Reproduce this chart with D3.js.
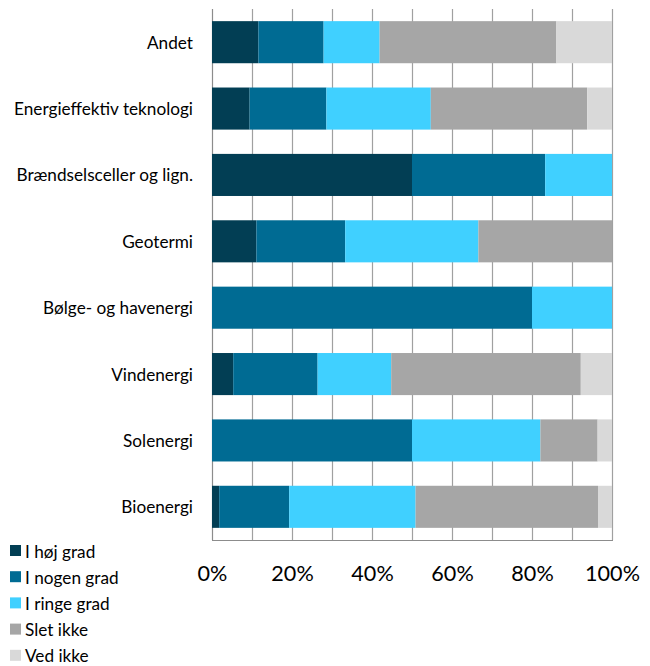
<!DOCTYPE html>
<html><head><meta charset="utf-8">
<script src="https://cdn.jsdelivr.net/npm/d3@7"></script>
<style>body{margin:0;background:#fff;} svg{display:block;}</style>
</head><body>
<svg id="chart" width="650" height="666"></svg>
<script>
const categories = ["Andet","Energieffektiv teknologi","Brændselsceller og lign.","Geotermi","Bølge- og havenergi","Vindenergi","Solenergi","Bioenergi"];
const seriesNames = ["I høj grad","I nogen grad","I ringe grad","Slet ikke","Ved ikke"];
const hoejGrad   = [11.6, 9.4, 50.0, 11.1, 0, 5.3, 0, 1.8];
const nogenGrad  = [16.3, 19.2, 33.3, 22.2, 80.0, 21.1, 50.0, 17.5];
const ringeGrad  = [14.0, 26.1, 16.7, 33.3, 20.0, 18.4, 32.1, 31.6];
const sletIkke   = [44.2, 39.1, 0, 33.4, 0, 47.4, 14.3, 45.6];
const vedIkke    = [13.9, 6.2, 0, 0, 0, 7.8, 3.6, 3.5];
const tickValues = [0,20,40,60,80,100];
const colors = ["#023e54","#006b93","#40d0ff","#a6a6a6","#d9d9d9"];

(function(){
const seriesArrays = [hoejGrad, nogenGrad, ringeGrad, sletIkke, vedIkke];
const rows = categories.map((c,i)=>{
  const o = {cat:c};
  seriesNames.forEach((s,j)=>o[s]=seriesArrays[j][i]);
  return o;
});

const svg = d3.select("#chart");
const mLeft = 212, mRight = 612, mTop = 9, mBottom = 540;
const x = d3.scaleLinear().domain([0,100]).range([mLeft,mRight]);
const y = d3.scaleBand().domain(categories).range([mTop,mBottom]).paddingInner(0.366).paddingOuter(0.183);

svg.append("g").selectAll("line").data(d3.range(0,101,10)).join("line")
  .attr("x1",d=>x(d)+0.5).attr("x2",d=>x(d)+0.5)
  .attr("y1",mTop).attr("y2",mBottom)
  .attr("stroke",d=>d===0?"#8c8c8c":"#a0a0a0").attr("stroke-width",1.2);
svg.append("line").attr("x1",mLeft).attr("x2",mRight+1).attr("y1",mBottom+0.5).attr("y2",mBottom+0.5)
  .attr("stroke","#8c8c8c").attr("stroke-width",1.2);

const stack = d3.stack().keys(seriesNames)(rows);
svg.append("g").selectAll("g").data(stack).join("g")
  .attr("fill",(d,i)=>colors[i])
  .selectAll("rect").data(d=>d).join("rect")
  .attr("x",d=>x(d[0])).attr("width",d=>x(d[1])-x(d[0]))
  .attr("y",d=>y(d.data.cat)).attr("height",y.bandwidth());

svg.append("g").selectAll("text").data(categories).join("text")
  .attr("x",193).attr("y",d=>y(d)+y.bandwidth()/2)
  .attr("text-anchor","end").attr("dominant-baseline","central")
  .attr("font-family","Lato, 'Open Sans', sans-serif").attr("font-size",17.2).attr("fill","#000")
  .text(d=>d);

const xAxis = svg.append("g").attr("transform",`translate(0,${mBottom})`)
  .call(d3.axisBottom(x).tickValues(tickValues).tickFormat(d=>d+"%").tickSize(0).tickPadding(26));
xAxis.select(".domain").remove();
xAxis.selectAll("text").attr("font-family","Lato, 'Open Sans', sans-serif").attr("font-size",21.6).attr("fill","#000");

const lg = svg.append("g").selectAll("g").data(seriesNames).join("g")
  .attr("transform",(d,i)=>`translate(10,${551+i*26.2})`);
lg.append("rect").attr("x",0).attr("y",-6).attr("width",11).attr("height",11).attr("fill",(d,i)=>colors[i]);
lg.append("text").attr("x",15).attr("y",0).attr("dominant-baseline","central")
  .attr("font-family","Lato, 'Open Sans', sans-serif").attr("font-size",17.2).attr("fill","#000").text(d=>d);
})();
</script>
</body></html>
